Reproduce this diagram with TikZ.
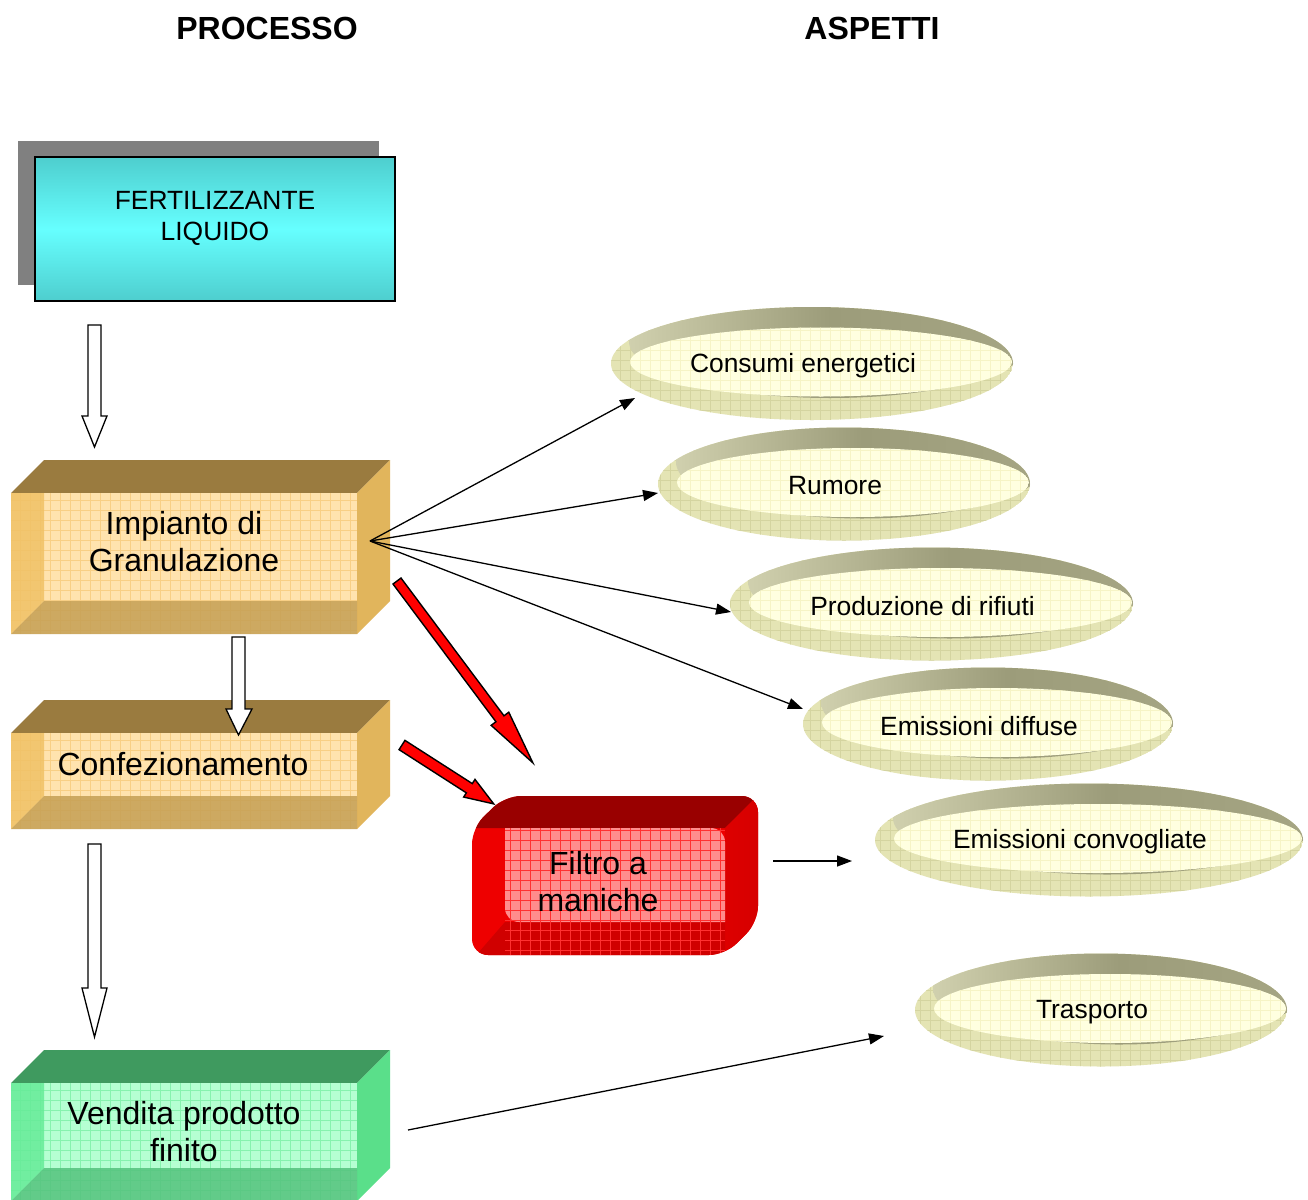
\documentclass[tikz,border=0pt]{standalone}
\usepackage{fontspec}
\setmainfont{Liberation Sans}
\usetikzlibrary{arrows.meta,calc}
\definecolor{imptop}{HTML}{9A7B3F}
\definecolor{impside}{HTML}{E1B55C}
\definecolor{impfront}{HTML}{FFE3AE}
\definecolor{impband}{HTML}{F0C266}
\definecolor{impgrid}{HTML}{F8CF85}
\definecolor{gtop}{HTML}{3F9A5F}
\definecolor{gside}{HTML}{5ADF8A}
\definecolor{gfront}{HTML}{B5FFD2}
\definecolor{gband}{HTML}{66EC98}
\definecolor{ggrid}{HTML}{86F2AE}
\definecolor{fertdk}{HTML}{4ECECE}
\definecolor{fertlt}{HTML}{66FFFF}
\definecolor{shadowgray}{HTML}{808080}
\definecolor{asphatch}{HTML}{E4E4B4}
\definecolor{aspgrid}{HTML}{D4D4A0}
\definecolor{aspdk}{HTML}{9C9C7A}
\definecolor{asplt}{HTML}{D0D0AE}
\definecolor{asplt2}{HTML}{A6A684}
\definecolor{aspin}{HTML}{FFFFE0}
\definecolor{aspingrid}{HTML}{F6F4C6}
\definecolor{redtop}{HTML}{990000}
\definecolor{redside}{HTML}{DD0000}
\definecolor{redfront}{HTML}{EE0000}
\definecolor{redband}{HTML}{D00000}
\definecolor{redpink}{HTML}{FF8C8C}
\definecolor{redgrid}{HTML}{FF3030}

\newcommand{\cubebox}[9]{%
  \fill[#5] (#1,#2) -- ({#1+33},{#2-33}) -- ({#3+33},{#2-33}) -- (#3,#2) -- cycle;
  \fill[#6] (#3,#2) -- ({#3+33},{#2-33}) -- ({#3+33},{#4-33}) -- (#3,#4) -- cycle;
  \fill[#7] (#1,#2) rectangle (#3,#4);
  \begin{scope}
    \clip (#1,#2) rectangle (#3,#4);
    \draw[#9, line width=0.5pt, step=10pt] (#1,#2) grid (#3,#4);
  \end{scope}
  \fill[#8, opacity=0.85] (#1,#2) -- ({#1+33},#2) -- ({#1+33},{#4-33}) -- (#1,#4) -- cycle;
  \fill[#8!82!black, opacity=0.85] ({#1+33},{#4-33}) -- (#3,{#4-33}) -- (#3,#4) -- (#1,#4) -- cycle;
}

\newcommand{\aspect}[6]{%
  \begin{scope}
    \clip (#2,#3) ellipse [x radius=#4, y radius=#5];
    \fill[asphatch] (#2,#3) ellipse [x radius=#4, y radius=#5];
    \draw[aspgrid, line width=0.5pt, step=10pt] ({#2-#4},{#3-#5}) grid ({#2+#4},{#3+#5});
    \shade[left color=asplt, right color=asplt2, middle color=aspdk] ({#2+18},{#3-22}) ellipse [x radius=#4, y radius=#5];
  \end{scope}
  \begin{scope}
    \clip ({#2+9},{#3-1.5}) ellipse [x radius={#4-10}, y radius={#5-22}];
    \fill[aspin] ({#2+9},{#3-1.5}) ellipse [x radius={#4-10}, y radius={#5-22}];
    \draw[aspingrid, line width=0.5pt, step=10pt] ({#2-#4},{#3-#5}) grid ({#2+#4},{#3+#5});
  \end{scope}
  \node[smtxt] (#1) at ({#2-9},{#3+2}) {#6};
}

\begin{document}
\begin{tikzpicture}[x=1pt,y=-1pt,
  hd/.style={font=\fontsize{32}{37}\selectfont\bfseries, inner sep=0pt},
  bigtxt/.style={font=\fontsize{32}{37}\selectfont, align=center, inner sep=0pt},
  smtxt/.style={font=\fontsize{26.4}{31}\selectfont, align=center, inner sep=0pt},
  conn/.style={line width=1.3pt, -{Triangle[length=15pt,width=11pt]}},
  hollow/.style={draw=black, fill=white, line width=1.3pt, line join=miter},
  redarr/.style={draw=black, fill=red, line width=1.4pt, line join=miter}]
\useasboundingbox (0,0) rectangle (1308,1199);
\fill[white] (0,0) rectangle (1308,1199);

% headers
\node[hd] (hproc) at (267,28) {PROCESSO};
\node[hd] (hasp) at (872,28) {ASPETTI};

% fertilizzante
\fill[shadowgray] (18,141) rectangle (379,285);
\shade[top color=fertdk, bottom color=fertdk, middle color=fertlt] (35,157) rectangle (395,301);
\draw[line width=1.5pt] (35,157) rectangle (395,301);
\node[smtxt] (fert) at (215,218) {FERTILIZZANTE\\LIQUIDO};

% cubes
\cubebox{11}{493}{357}{634}{imptop}{impside}{impfront}{impband}{impgrid}
\node[bigtxt] (imp) at (184,542) {Impianto di\\Granulazione};
\cubebox{11}{733}{357}{829}{imptop}{impside}{impfront}{impband}{impgrid}
\node[bigtxt] (conf) at (183,764) {Confezionamento};
\cubebox{11}{1083}{357}{1201}{gtop}{gside}{gfront}{gband}{ggrid}
\node[bigtxt] (vend) at (184,1132) {Vendita prodotto\\finito};

% filtro a maniche
\begin{scope}
  \clip[rounded corners=16pt] (472,828) -- (505,796) -- (758,796) -- (758,922) -- (725,955) -- (472,955) -- cycle;
  \fill[redfront] (460,780) rectangle (770,960);
  \fill[redtop] (472,828) -- (505,795) -- (760,795) -- (725,828) -- cycle;
  \shade[left color=redside, right color=redfront!90!black] (725,828) -- (760,793) -- (760,922) -- (725,957) -- cycle;
  \fill[redband] (505,922) -- (725,922) -- (725,960) -- (472,960) -- cycle;
  \fill[redpink] (505,828) -- (711,828) to[out=0,in=90] (725,842) -- (725,922) -- (519,922) to[out=180,in=-90] (505,908) -- cycle;
  \draw[redgrid, line width=0.5pt, step=10pt] (505,828) grid (725,955);
\end{scope}
\node[bigtxt] (filtro) at (598,882) {Filtro a\\maniche};

% aspects
\aspect{consumi}{812}{363.5}{201}{56.5}{Consumi energetici}
\aspect{rumore}{844}{484}{186}{56.5}{Rumore}
\aspect{rifiuti}{931.5}{604}{201.5}{56.5}{Produzione di rifiuti}
\aspect{diffuse}{988}{724}{185}{56.5}{Emissioni diffuse}
\aspect{convogliate}{1089}{840}{214}{56.5}{Emissioni convogliate}
\aspect{trasporto}{1101}{1010}{186}{56.5}{Trasporto}

% hollow arrows
\draw[hollow] (88,325) -- (101,325) -- (101,416) -- (107,416) -- (94.5,447) -- (82,416) -- (88,416) -- cycle;
\draw[hollow] (232,637) -- (245,637) -- (245,709) -- (252,709) -- (238.5,735) -- (226,709) -- (232,709) -- cycle;
\draw[hollow] (88,844) -- (101,844) -- (101,988) -- (107,988) -- (94.5,1037) -- (82,988) -- (88,988) -- cycle;

% red arrows
\begin{scope}[shift={(397,581)}, rotate=-53.23]
  \draw[redarr] (0,-5) -- (172,-5) -- (172,-11) -- (227,0) -- (172,11) -- (172,5) -- (0,5) -- cycle;
\end{scope}
\begin{scope}[shift={(402,745)}, rotate=-32.7]
  \draw[redarr] (0,-5.5) -- (80,-5.5) -- (80,-10.5) -- (109,0) -- (80,10.5) -- (80,5.5) -- (0,5.5) -- cycle;
\end{scope}

% connectors
\coordinate (src) at (370,541);
\coordinate (t1) at (635,398);
\coordinate (t2) at (658,493);
\coordinate (t3) at (731,612);
\coordinate (t4) at (803,709);
\coordinate (fs) at (773,861);
\coordinate (ft) at (852,861);
\coordinate (vs) at (408,1130);
\coordinate (vt) at (884,1036);
\draw[conn] (src) -- (t1);
\draw[conn] (src) -- (t2);
\draw[conn] (src) -- (t3);
\draw[conn] (src) -- (t4);
\draw[conn] (fs) -- (ft);
\draw[conn] (vs) -- (vt);
\end{tikzpicture}
\end{document}
